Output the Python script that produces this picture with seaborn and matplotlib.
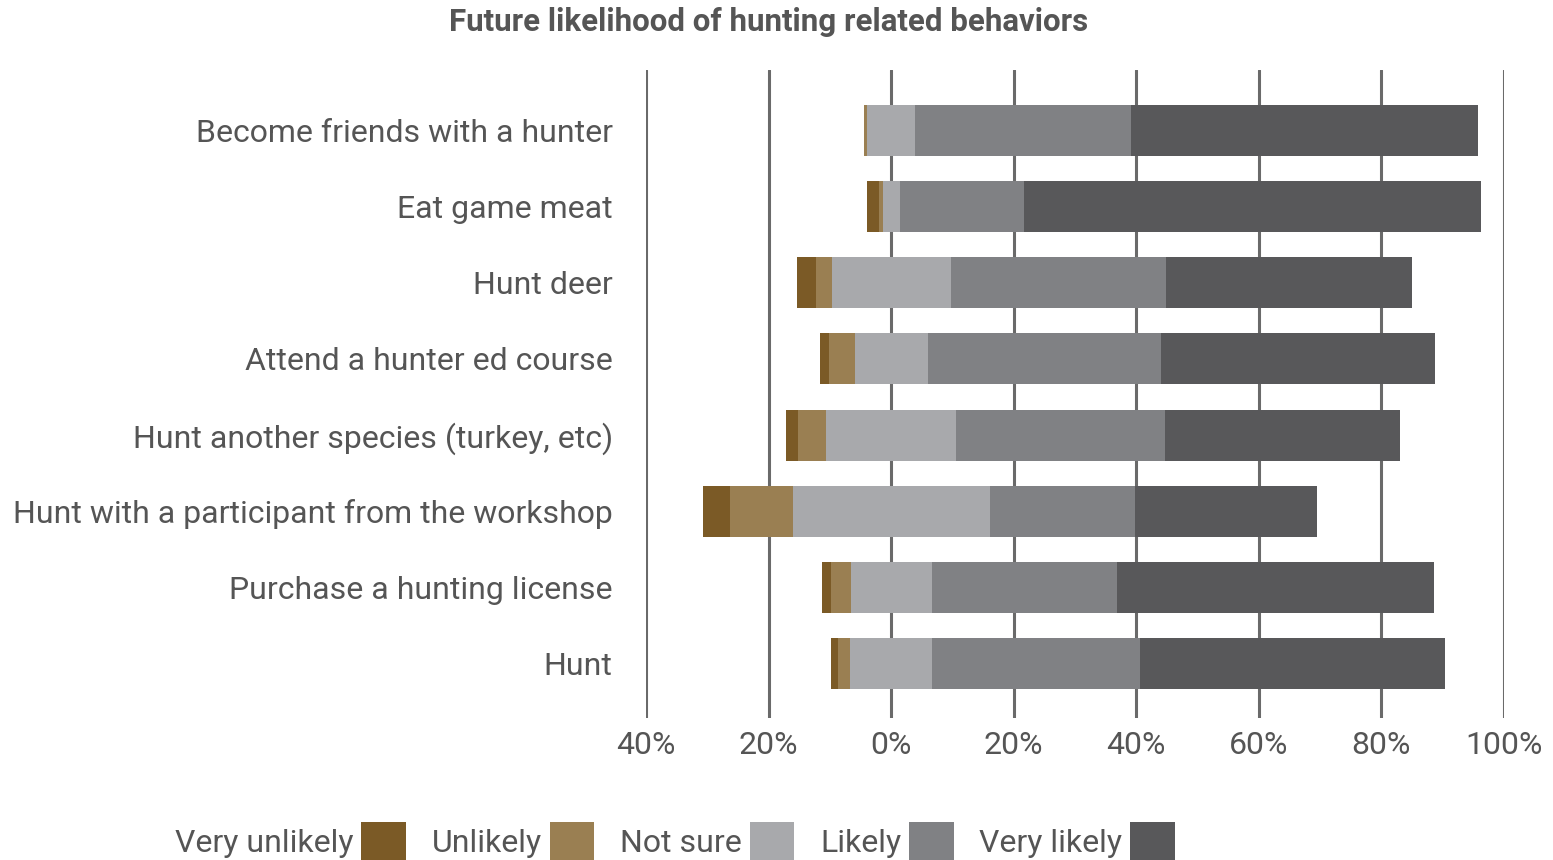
import matplotlib
matplotlib.use("Agg")
import matplotlib.pyplot as plt
from matplotlib.patches import Patch
import numpy as np
import seaborn as sns

categories = [
    "Become friends with a hunter",
    "Eat game meat",
    "Hunt deer",
    "Attend a hunter ed course",
    "Hunt another species (turkey, etc)",
    "Hunt with a participant from the workshop",
    "Purchase a hunting license",
    "Hunt",
]
very_unlikely = [0.0, 2.0, 3.2, 1.5, 2.0, 4.4, 1.5, 1.2]
unlikely      = [0.6, 0.5, 2.5, 4.2, 4.6, 10.3, 3.2, 2.0]
not_sure      = [7.8, 2.8, 19.4, 11.9, 21.1, 32.1, 13.2, 13.3]
likely        = [35.3, 20.3, 35.1, 38.1, 34.1, 23.7, 30.3, 34.0]
very_likely   = [56.5, 74.6, 40.2, 44.7, 38.3, 29.7, 51.7, 49.7]

levels = ["Very unlikely", "Unlikely", "Not sure", "Likely", "Very likely"]
colors = ["#7b5a26", "#9a7f52", "#a8a9ac", "#808184", "#58585a"]
tick_vals = [-40, -20, 0, 20, 40, 60, 80, 100]
tick_labels = ["40%", "20%", "0%", "20%", "40%", "60%", "80%", "100%"]

sns.set_theme(style="white")
plt.rcParams["font.family"] = ["Roboto", "DejaVu Sans"]
text_color = "#555555"

fig = plt.figure(figsize=(15.53, 8.60), dpi=100)
ax = fig.add_axes([646/1553, 1-718/860, (1504-646)/1553, (718-70)/860])

vu = np.array(very_unlikely); u = np.array(unlikely); ns = np.array(not_sure)
l = np.array(likely); vl = np.array(very_likely)
half = ns / 2.0

# Overlapping layers, drawn outermost first
layers = [
    (-(half + u + vu), colors[0]),
    (-(half + u), colors[1]),
    (-half, colors[2]),
    (half + l + vl, colors[4]),
    (half + l, colors[3]),
    (half, colors[2]),
]
for vals, c in layers:
    sns.barplot(x=vals, y=categories, orient="h", color=c, saturation=1,
                width=0.67, linewidth=0, errorbar=None, ax=ax, zorder=3)

ax.set_xlim(-40, 100)
ax.set_ylim(7.71, -0.79)
ax.set_xticks(tick_vals)
ax.set_xticklabels(tick_labels)
ax.set_xlabel("")
ax.set_ylabel("")
ax.grid(axis="x", color="#6a6a6a", linewidth=2.2, zorder=0)
ax.grid(axis="y", visible=False)
ax.set_axisbelow(True)
for s in ax.spines.values():
    s.set_visible(False)
ax.tick_params(axis="x", length=0, pad=9, labelsize=23, labelcolor=text_color)
ax.tick_params(axis="y", length=0, pad=24, labelsize=23, labelcolor=text_color)

fig.text(769/1553, 1-22/860, "Future likelihood of hunting related behaviors",
         ha="center", va="center", fontsize=22.5, fontweight="bold", color=text_color)

handles = [Patch(facecolor=c, edgecolor="none", label=lab) for lab, c in zip(levels, colors)]
leg = fig.legend(handles=handles, loc="center left", bbox_to_anchor=(162/1553, 1-841/860),
                 ncol=5, frameon=False, markerfirst=False, fontsize=23,
                 handlelength=1.4, handleheight=1.5, handletextpad=0.25,
                 columnspacing=0.8, borderaxespad=0)
for t in leg.get_texts():
    t.set_color(text_color)

fig.savefig("out.png", dpi=100)
